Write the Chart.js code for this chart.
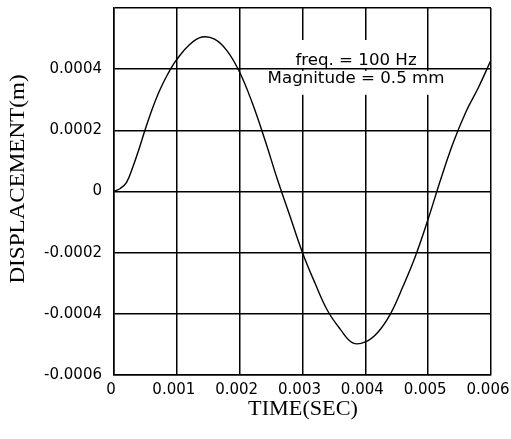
<!DOCTYPE html>
<html>
<head>
<meta charset="utf-8">
<script src="https://cdn.jsdelivr.net/npm/chart.js@4/dist/chart.umd.min.js"></script>
<style>
  html, body { margin: 0; padding: 0; background: #fff; }
  #wrap { width: 511px; height: 439px; position: relative; }
</style>
</head>
<body>
<div id="wrap"><canvas id="c" width="511" height="439"></canvas></div>
<script>
// ---- data ----
const timeSec = [0, 0.0001, 0.0002, 0.0003, 0.0004, 0.0005, 0.0006, 0.0007, 0.0008, 0.0009,
  0.001, 0.0012, 0.0014, 0.0016, 0.0018, 0.002, 0.0022, 0.0024, 0.0026, 0.0028,
  0.003, 0.0032, 0.0034, 0.0036, 0.0038, 0.004, 0.0042, 0.0044, 0.0046, 0.0048,
  0.005, 0.0052, 0.0054, 0.0056, 0.0058, 0.006];
const displacement = [0, 0.00001, 0.00003, 0.00008, 0.00014, 0.000205, 0.000265, 0.000318, 0.000362, 0.0004,
  0.000432, 0.00048, 0.000505, 0.000498, 0.00046, 0.00039, 0.00029, 0.00017, 0.00004, -0.00008,
  -0.0002, -0.0003, -0.00039, -0.00045, -0.000495, -0.000492, -0.00046, -0.0004, -0.00031, -0.00021,
  -0.00009, 0.00004, 0.00016, 0.00026, 0.00034, 0.00043];
const xTickValues = [0, 0.001, 0.002, 0.003, 0.004, 0.005, 0.006];
const xTickLabels = ['0', '0.001', '0.002', '0.003', '0.004', '0.005', '0.006'];
const yTickValues = [-0.0006, -0.0004, -0.0002, 0, 0.0002, 0.0004, 0.0006];
const yTickLabels = ['-0.0006', '-0.0004', '-0.0002', '0', '0.0002', '0.0004', ''];
const xTitle = 'TIME(SEC)';
const yTitle = 'DISPLACEMENT(m)';
const noteLines = ['freq. = 100 Hz', 'Magnitude = 0.5 mm'];

const points = timeSec.map((t, i) => ({ x: t, y: displacement[i] }));

const textPlugin = {
  id: 'texts',
  afterDraw(chart) {
    const ctx = chart.ctx;
    ctx.save();
    ctx.fillStyle = '#000';
    // axis titles
    ctx.font = '20px "Liberation Serif"';
    ctx.textAlign = 'center';
    ctx.textBaseline = 'middle';
    ctx.save();
    ctx.translate(303, 410);
    ctx.scale(1.11, 1);
    ctx.fillText(xTitle, 0, 0);
    ctx.restore();

    ctx.font = '22px "Liberation Serif"';
    ctx.save();
    ctx.translate(18, 179);
    ctx.rotate(-Math.PI / 2);
    ctx.scale(1.05, 1);
    ctx.fillText(yTitle, 0, 0);
    ctx.restore();

    // annotation with white backing boxes
    ctx.fillStyle = '#fff';
    ctx.fillRect(292, 40, 128, 28);
    ctx.fillRect(264, 70.8, 184, 24);
    ctx.fillStyle = '#000';
    ctx.font = '16px "DejaVu Sans"';
    ctx.textBaseline = 'alphabetic';
    ctx.save();
    ctx.translate(356, 65);
    ctx.scale(1.04, 1);
    ctx.fillText(noteLines[0], 0, 0);
    ctx.restore();
    ctx.save();
    ctx.translate(356, 83);
    ctx.scale(1.04, 1);
    ctx.fillText(noteLines[1], 0, 0);
    ctx.restore();
    ctx.restore();
  }
};

new Chart(document.getElementById('c'), {
  type: 'line',
  data: {
    datasets: [{
      data: points,
      borderColor: '#000',
      borderWidth: 1.4,
      pointRadius: 0,
      fill: false,
      tension: 0.4
    }]
  },
  options: {
    responsive: false,
    animation: false,
    events: [],
    layout: { padding: { left: 0, right: 20, top: 8, bottom: 0 } },
    plugins: { legend: { display: false }, tooltip: { enabled: false } },
    scales: {
      x: {
        type: 'linear',
        min: 0, max: 0.006,
        afterBuildTicks(scale) { scale.ticks = xTickValues.map(v => ({ value: v })); },
        afterFit(scale) { scale.height = 64; scale.paddingLeft = 0; scale.paddingRight = 0; },
        grid: { color: '#000', lineWidth: 1.5, drawTicks: false },
        border: { color: '#000', width: 1.5 },
        ticks: {
          color: '#000',
          font: { family: 'DejaVu Sans', size: 15 },
          padding: 6,
          labelOffset: -3,
          maxRotation: 0,
          autoSkip: false,
          callback: (v, i) => xTickLabels[i]
        }
      },
      y: {
        type: 'linear',
        min: -0.0006, max: 0.0006,
        afterBuildTicks(scale) { scale.ticks = yTickValues.map(v => ({ value: v })); },
        afterFit(scale) { scale.width = 114; scale.paddingTop = 0; scale.paddingBottom = 0; },
        grid: { color: '#000', lineWidth: 1.5, drawTicks: false },
        border: { color: '#000', width: 1.5 },
        ticks: {
          color: '#000',
          font: { family: 'DejaVu Sans', size: 15 },
          padding: 12,
          autoSkip: false,
          callback: (v, i) => yTickLabels[i]
        }
      }
    }
  },
  plugins: [textPlugin]
});
</script>
</body>
</html>
